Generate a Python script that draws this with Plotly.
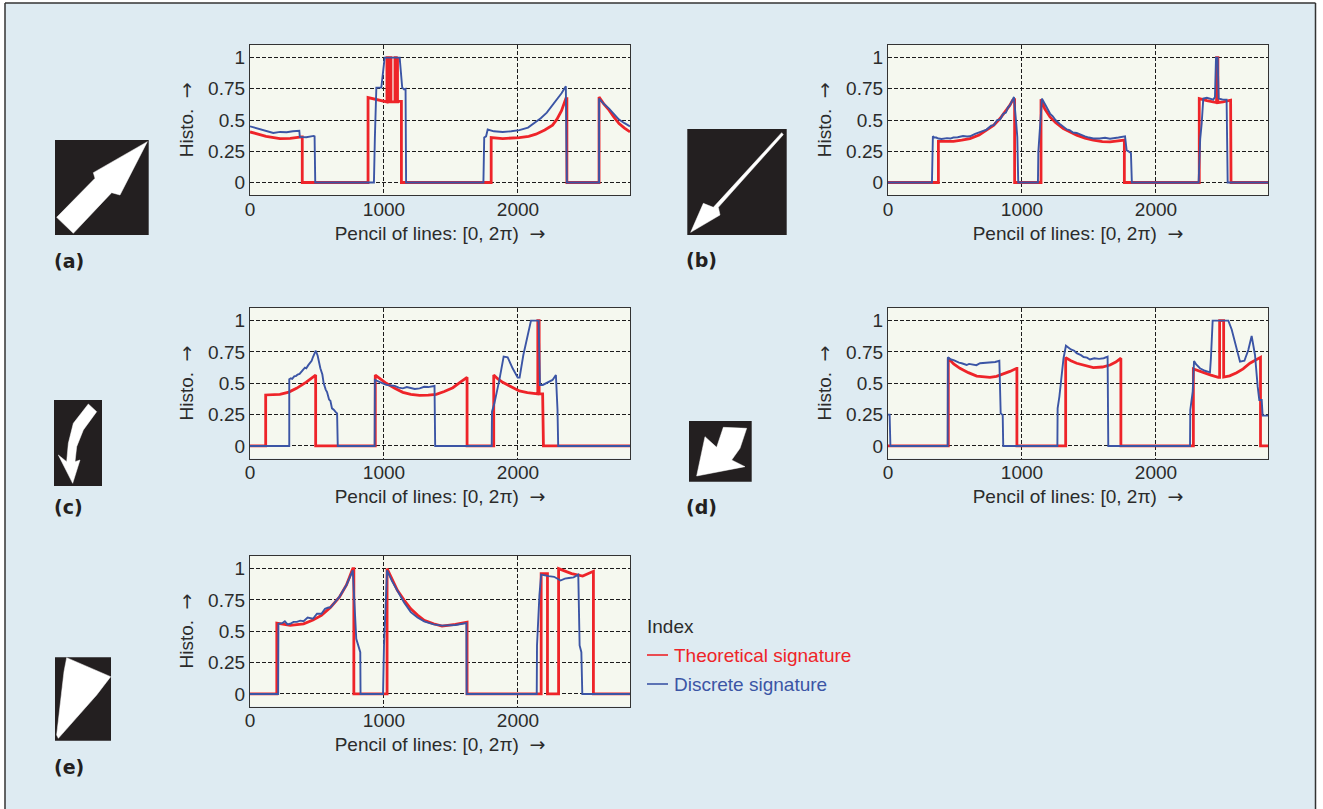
import plotly.graph_objects as go

W, H = 1323, 809
FONT = "Liberation Sans"
RED, BLUE = "#ee2429", "#3b55a5"
INK = "#2b2b2b"

ARROW = '<span style="font-family:DejaVu Sans">→</span>'
x_ticks = [0, 1000, 2000]
y_ticks = [0, 0.25, 0.5, 0.75, 1]
y_labels = ["0", "0.25", "0.5", "0.75", "1"]
x_title = "Pencil of lines: [0, 2π)  " + ARROW
y_title = "Histo.  " + ARROW
legend_title = "Index"
theory_name = "Theoretical signature"
discrete_name = "Discrete signature"

a_theo_x = [0, 60, 120, 223, 300, 385, 385, 390, 390, 881, 881, 950, 1012, 1022, 1022, 1033, 1033, 1044, 1044, 1052, 1052, 1082, 1082, 1092, 1092, 1101, 1101, 1101, 1128, 1130, 1130, 1800, 1800, 1886, 2010, 2080, 2134, 2200, 2258, 2290, 2325, 2357, 2365, 2365, 2605, 2605, 2640, 2680, 2715, 2754, 2795, 2836]
a_theo_y = [0.405, 0.385, 0.37, 0.352, 0.354, 0.365, 0.365, 0.365, 0, 0, 0.68, 0.66, 0.645, 0.645, 1, 1, 0.645, 0.645, 1, 1, 0.645, 0.645, 1, 1, 0.645, 0.645, 1, 0.65, 0.65, 0.65, 0, 0, 0.36, 0.352, 0.36, 0.37, 0.387, 0.42, 0.459, 0.505, 0.575, 0.672, 0.672, 0, 0, 0.685, 0.63, 0.579, 0.525, 0.472, 0.435, 0.405]
a_disc_x = [0, 30, 74, 130, 174, 225, 273, 320, 360, 368, 372, 420, 476, 482, 487, 925, 932, 943, 965, 980, 1005, 1117, 1136, 1150, 1161, 1165, 1742, 1748, 1762, 1774, 1820, 1886, 1950, 2010, 2075, 2134, 2170, 2215, 2258, 2290, 2325, 2357, 2365, 2605, 2605, 2640, 2680, 2715, 2754, 2795, 2836]
a_disc_y = [0.45, 0.44, 0.424, 0.41, 0.397, 0.405, 0.403, 0.41, 0.419, 0.415, 0.365, 0.362, 0.373, 0.37, 0, 0, 0.36, 0.76, 0.76, 0.76, 1, 1, 0.76, 0.745, 0.75, 0, 0, 0.36, 0.37, 0.424, 0.41, 0.405, 0.41, 0.419, 0.44, 0.485, 0.515, 0.56, 0.619, 0.665, 0.715, 0.77, 0, 0, 0.672, 0.63, 0.592, 0.55, 0.504, 0.475, 0.45]

b_theo_x = [0, 376, 376, 430, 488, 550, 612, 680, 736, 790, 836, 880, 910, 930, 945, 945, 1142, 1142, 1170, 1209, 1250, 1308, 1408, 1470, 1532, 1600, 1657, 1764, 1764, 2323, 2323, 2380, 2428, 2452, 2452, 2462, 2462, 2500, 2557, 2560, 2836]
b_theo_y = [0, 0, 0.33, 0.33, 0.33, 0.34, 0.352, 0.38, 0.419, 0.46, 0.512, 0.57, 0.619, 0.66, 0.672, 0, 0, 0.667, 0.59, 0.525, 0.48, 0.432, 0.379, 0.355, 0.339, 0.328, 0.325, 0.339, 0, 0, 0.672, 0.655, 0.645, 0.64, 1, 1, 0.64, 0.645, 0.659, 0, 0]
b_disc_x = [0, 328, 335, 345, 360, 376, 400, 420, 440, 465, 488, 520, 560, 590, 612, 650, 680, 710, 736, 770, 790, 815, 836, 860, 880, 895, 910, 932, 940, 955, 965, 972, 1119, 1122, 1134, 1149, 1175, 1209, 1230, 1250, 1280, 1308, 1335, 1355, 1380, 1408, 1440, 1470, 1500, 1532, 1580, 1620, 1657, 1690, 1720, 1769, 1781, 1813, 1820, 2318, 2330, 2341, 2353, 2380, 2428, 2440, 2448, 2460, 2468, 2495, 2527, 2535, 2836]
b_disc_y = [0, 0, 0.37, 0.36, 0.36, 0.352, 0.348, 0.352, 0.355, 0.352, 0.36, 0.362, 0.372, 0.368, 0.37, 0.39, 0.4, 0.41, 0.424, 0.455, 0.46, 0.5, 0.504, 0.55, 0.56, 0.6, 0.619, 0.665, 0.685, 0.5, 0.365, 0, 0, 0.245, 0.445, 0.672, 0.62, 0.552, 0.53, 0.5, 0.47, 0.445, 0.425, 0.42, 0.4, 0.397, 0.38, 0.37, 0.36, 0.352, 0.352, 0.358, 0.35, 0.358, 0.36, 0.37, 0.259, 0.237, 0, 0, 0.35, 0.472, 0.672, 0.678, 0.664, 0.685, 1, 1, 0.672, 0.665, 0.664, 0, 0]

c_theo_x = [0, 117, 117, 170, 223, 290, 347, 420, 484, 490, 490, 935, 935, 975, 1017, 1080, 1141, 1200, 1266, 1330, 1390, 1450, 1514, 1570, 1613, 1620, 1620, 1819, 1819, 1850, 1886, 1950, 2010, 2070, 2134, 2148, 2148, 2158, 2158, 2184, 2190, 2836]
c_theo_y = [0, 0, 0.407, 0.408, 0.412, 0.43, 0.46, 0.51, 0.566, 0.566, 0, 0, 0.566, 0.535, 0.5, 0.46, 0.428, 0.412, 0.404, 0.405, 0.412, 0.435, 0.465, 0.51, 0.548, 0.548, 0, 0, 0.566, 0.535, 0.508, 0.47, 0.439, 0.425, 0.415, 0.415, 1, 1, 0.415, 0.415, 0, 0]
c_disc_x = [0, 293, 293, 305, 315, 330, 345, 355, 370, 385, 397, 410, 420, 435, 447, 460, 470, 480, 491, 505, 515, 525, 540, 550, 565, 575, 590, 600, 612, 625, 640, 650, 655, 930, 932, 975, 1017, 1050, 1080, 1110, 1141, 1170, 1200, 1230, 1266, 1300, 1330, 1377, 1382, 1804, 1806, 1824, 1861, 1893, 1923, 1960, 1998, 2012, 2040, 2065, 2097, 2154, 2164, 2185, 2208, 2258, 2283, 2295, 2300, 2836]
c_disc_y = [0, 0, 0.532, 0.54, 0.535, 0.555, 0.56, 0.57, 0.575, 0.6, 0.61, 0.625, 0.62, 0.645, 0.66, 0.68, 0.71, 0.74, 0.76, 0.72, 0.66, 0.62, 0.57, 0.5, 0.45, 0.43, 0.37, 0.36, 0.3, 0.29, 0.27, 0.26, 0, 0, 0.527, 0.51, 0.487, 0.482, 0.48, 0.465, 0.46, 0.47, 0.465, 0.455, 0.46, 0.472, 0.47, 0.479, 0, 0, 0.274, 0.34, 0.527, 0.713, 0.707, 0.62, 0.545, 0.545, 0.726, 0.846, 1, 1, 0.487, 0.487, 0.5, 0.527, 0.566, 0.287, 0, 0]

d_theo_x = [0, 450, 450, 490, 537, 600, 662, 710, 761, 810, 861, 910, 960, 962, 962, 1326, 1326, 1365, 1408, 1470, 1532, 1600, 1657, 1700, 1736, 1738, 1738, 2279, 2279, 2353, 2410, 2465, 2475, 2475, 2505, 2505, 2550, 2602, 2650, 2701, 2776, 2780, 2780, 2836]
d_theo_y = [0, 0, 0.70, 0.655, 0.62, 0.585, 0.558, 0.552, 0.548, 0.555, 0.574, 0.595, 0.62, 0.62, 0, 0, 0.705, 0.68, 0.66, 0.64, 0.625, 0.63, 0.646, 0.67, 0.70, 0.70, 0, 0, 0.614, 0.585, 0.565, 0.548, 0.548, 1, 1, 0.55, 0.56, 0.585, 0.615, 0.66, 0.707, 0.707, 0, 0]
d_disc_x = [0, 12, 18, 445, 447, 470, 490, 512, 530, 550, 587, 605, 640, 660, 687, 760, 800, 831, 841, 856, 860, 1264, 1266, 1279, 1296, 1310, 1328, 1345, 1365, 1390, 1408, 1440, 1460, 1485, 1507, 1540, 1575, 1610, 1639, 1644, 2254, 2256, 2274, 2284, 2300, 2328, 2365, 2403, 2410, 2423, 2540, 2565, 2590, 2627, 2660, 2689, 2714, 2739, 2759, 2771, 2789, 2796, 2836]
d_disc_y = [0.25, 0.25, 0, 0, 0.707, 0.69, 0.685, 0.673, 0.665, 0.66, 0.646, 0.655, 0.652, 0.645, 0.66, 0.665, 0.67, 0.68, 0.26, 0.247, 0, 0, 0.3, 0.394, 0.54, 0.7, 0.80, 0.785, 0.77, 0.76, 0.74, 0.725, 0.71, 0.705, 0.69, 0.7, 0.695, 0.7, 0.713, 0, 0, 0.287, 0.433, 0.678, 0.65, 0.62, 0.6, 0.588, 0.7, 1, 1, 0.93, 0.82, 0.673, 0.68, 0.766, 0.878, 0.726, 0.473, 0.367, 0.367, 0.242, 0.242]

e_theo_x = [0, 200, 200, 300, 400, 470, 533, 600, 667, 720, 767, 775, 775, 1023, 1023, 1060, 1100, 1150, 1200, 1250, 1300, 1370, 1433, 1533, 1617, 1620, 1620, 2173, 2173, 2217, 2220, 2220, 2303, 2303, 2350, 2400, 2483, 2560, 2563, 2563, 2836]
e_theo_y = [0, 0, 0.565, 0.547, 0.56, 0.59, 0.627, 0.69, 0.773, 0.87, 1.0, 1.0, 0, 0, 1, 0.91, 0.827, 0.75, 0.68, 0.63, 0.587, 0.56, 0.541, 0.555, 0.573, 0.573, 0, 0, 0.96, 0.96, 0.96, 0, 0, 1.0, 0.98, 0.96, 0.941, 0.979, 0.979, 0, 0]
e_disc_x = [0, 210, 212, 240, 260, 280, 300, 325, 350, 375, 400, 430, 470, 500, 533, 560, 585, 600, 640, 667, 720, 767, 793, 823, 825, 993, 1000, 1023, 1060, 1100, 1150, 1200, 1250, 1300, 1370, 1433, 1533, 1615, 1617, 2140, 2142, 2160, 2173, 2230, 2270, 2317, 2350, 2380, 2415, 2450, 2460, 2473, 2480, 2836]
e_disc_y = [0, 0, 0.56, 0.565, 0.58, 0.555, 0.56, 0.575, 0.575, 0.585, 0.58, 0.61, 0.6, 0.64, 0.64, 0.68, 0.69, 0.69, 0.74, 0.775, 0.87, 0.987, 0.44, 0.333, 0, 0, 0.387, 0.987, 0.9, 0.82, 0.73, 0.653, 0.61, 0.58, 0.555, 0.545, 0.55, 0.565, 0, 0, 0.387, 0.787, 0.952, 0.94, 0.935, 0.905, 0.92, 0.925, 0.93, 0.952, 0.387, 0.333, 0, 0]

panels = [
    (a_theo_x, a_theo_y, a_disc_x, a_disc_y, 250, 630, 44.5, 195),
    (b_theo_x, b_theo_y, b_disc_x, b_disc_y, 888, 1268, 44.5, 195),
    (c_theo_x, c_theo_y, c_disc_x, c_disc_y, 250, 630, 307.5, 458.5),
    (d_theo_x, d_theo_y, d_disc_x, d_disc_y, 888, 1268, 307.5, 458.5),
    (e_theo_x, e_theo_y, e_disc_x, e_disc_y, 250, 630, 555.5, 706.5),
]

fig = go.Figure()
layout = {}
for i, (tx, ty, dx, dy, x0, x1, y0, y1) in enumerate(panels, start=1):
    suffix = "" if i == 1 else str(i)
    fig.add_trace(go.Scatter(x=tx, y=ty, mode="lines", name=theory_name, showlegend=False,
                             line=dict(color=RED, width=2.8), xaxis="x" + suffix, yaxis="y" + suffix))
    fig.add_trace(go.Scatter(x=dx, y=dy, mode="lines", name=discrete_name, showlegend=False,
                             line=dict(color=BLUE, width=1.9), xaxis="x" + suffix, yaxis="y" + suffix))
    layout["xaxis" + suffix] = dict(
        domain=[x0 / W, x1 / W], range=[0, 2836], anchor="y" + suffix, automargin=False,
        tickvals=x_ticks, ticktext=[str(v) for v in x_ticks], ticks="", ticklabelstandoff=-3,
        showgrid=True, griddash="4px,2px", gridcolor="#1c1c1c", gridwidth=1,
        zeroline=False, showline=True, mirror=True, linecolor="#333", linewidth=1.3,
        tickfont=dict(family=FONT, size=19, color=INK),
        title=dict(text=x_title, standoff=7, font=dict(family=FONT, size=19, color=INK)),
    )
    layout["yaxis" + suffix] = dict(
        domain=[1 - y1 / H, 1 - y0 / H], range=[-0.1, 1.105], anchor="x" + suffix, automargin=False,
        tickvals=y_ticks, ticktext=y_labels, ticks="",
        showgrid=True, griddash="4px,2px", gridcolor="#1c1c1c", gridwidth=1,
        zeroline=False, showline=True, mirror=True, linecolor="#333", linewidth=1.3,
        tickfont=dict(family=FONT, size=19, color=INK),
        title=dict(text=y_title, standoff=9, font=dict(family=FONT, size=19, color=INK)),
    )


def px(x):
    return x / W


def py(y):
    return 1 - y / H


def poly(points, ox, oy):
    cmds = []
    for k, (zx, zy) in enumerate(points):
        cmds.append(("M" if k == 0 else "L") + f"{px(ox + zx / 3):.5f},{py(oy + zy / 3):.5f}")
    return " ".join(cmds) + " Z"


thumbs = [
    ((55, 140, 148.7, 235), 40, 130, [(322, 35), (240, 195), (215, 188), (100, 310), (50, 262), (165, 145), (160, 128)]),
    ((687.3, 129, 786.7, 235), 670, 120, [(335, 38), (340, 44), (145, 262), (150, 285), (62, 337), (100, 250), (130, 262)]),
    ((54, 400, 102, 486), 40, 390, [(145, 42), (170, 65), (130, 120), (110, 170), (105, 215), (120, 210), (98, 280), (55, 195), (80, 215), (85, 160), (100, 100)]),
    ((689, 421, 751.7, 481.7), 675, 410, [(145, 52), (215, 55), (195, 115), (170, 150), (210, 170), (65, 198), (90, 80), (125, 112)]),
    ((55, 657.3, 111, 740.7), 40, 645, [(80, 38), (212, 95), (170, 150), (55, 280), (50, 270), (72, 80)]),
]

shapes = []
for (rx0, ry0, rx1, ry1), ox, oy, pts in thumbs:
    shapes.append(dict(type="rect", xref="paper", yref="paper", x0=px(rx0), x1=px(rx1), y0=py(ry1), y1=py(ry0),
                       fillcolor="#231f20", line=dict(width=0)))
    shapes.append(dict(type="path", xref="paper", yref="paper", path=poly(pts, ox, oy),
                       fillcolor="white", line=dict(color="white", width=0.5)))

# white page margin and dark frame around the panel
for x0, x1, y0, y1 in [(0, 5, 0, 809), (0, 1323, 0, 3), (1315.5, 1323, 0, 809)]:
    shapes.append(dict(type="rect", xref="paper", yref="paper", x0=px(x0), x1=px(x1), y0=py(y1), y1=py(y0),
                       fillcolor="white", line=dict(width=0)))
for x0, x1, y0, y1 in [(5, 5, 3, 809), (5, 1315.5, 3, 3), (1315.5, 1315.5, 3, 809)]:
    shapes.append(dict(type="line", xref="paper", yref="paper", x0=px(x0), x1=px(x1), y0=py(y1), y1=py(y0),
                       line=dict(color="#333", width=1.5)))
# legend keys
shapes.append(dict(type="line", xref="paper", yref="paper", x0=px(647), x1=px(668), y0=py(655), y1=py(655),
                   line=dict(color=RED, width=1.6)))
shapes.append(dict(type="line", xref="paper", yref="paper", x0=px(647), x1=px(668), y0=py(684), y1=py(684),
                   line=dict(color=BLUE, width=1.6)))

annotations = []
for text, x, y, col in [(legend_title, 645, 626, INK), (theory_name, 672, 655, RED), (discrete_name, 672, 684, BLUE)]:
    annotations.append(dict(text=text, xref="paper", yref="paper", x=px(x), y=py(y), xanchor="left", yanchor="middle",
                            showarrow=False, font=dict(family=FONT, size=19, color=col)))
for text, x, y in [("(a)", 52, 261), ("(b)", 684, 260), ("(c)", 52, 507), ("(d)", 684, 507), ("(e)", 52, 767)]:
    annotations.append(dict(text="<b>" + text + "</b>", xref="paper", yref="paper", x=px(x), y=py(y), xanchor="left",
                            yanchor="middle", showarrow=False, font=dict(family="DejaVu Sans", size=19, color="#231f20")))

fig.update_layout(width=W, height=H, margin=dict(l=0, r=0, t=0, b=0), paper_bgcolor="#deebf2", plot_bgcolor="#f5f8ef",
                  showlegend=False, shapes=shapes, annotations=annotations, **layout)

fig.write_html("out.html", config={"displayModeBar": False},
               post_script="document.body.style.margin='0';document.documentElement.style.overflow='hidden';")
